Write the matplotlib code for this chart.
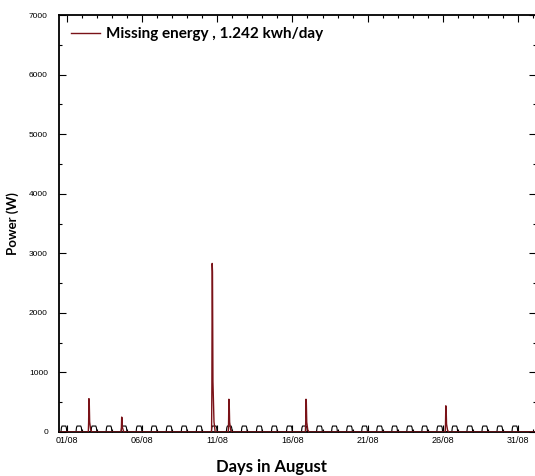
import matplotlib
matplotlib.use("Agg")
import numpy as np
import matplotlib.pyplot as plt
from matplotlib.ticker import MultipleLocator

# daily base load bumps (W), one per day in August
days = list(range(1, 32))
base_load = [100, 100, 100, 100, 100, 100, 100, 100, 100, 100,
             100, 100, 100, 100, 100, 100, 100, 100, 100, 100,
             100, 100, 100, 100, 100, 100, 100, 100, 100, 100, 100]

# missing energy spikes (day position, peak W)
spike_days = [2.46, 4.64, 10.66, 11.77, 16.90, 26.20]
spike_peaks = [560, 250, 2830, 550, 550, 440]

tick_days = [1, 6, 11, 16, 21, 26, 31]
tick_labels = ['01/08', '06/08', '11/08', '16/08', '21/08', '26/08', '31/08']

legend_label = 'Missing energy , 1.242 kwh/day'
red = '#7a1218'

# shapes of one bump / one spike (relative time, relative height)
bump_dt = [-0.40, -0.37, -0.33, -0.08, -0.04, -0.01]
bump_rel = [0, 0.7, 1, 1, 0.7, 0]
spike_dt = [-0.04, -0.02, 0.0, 0.02, 0.05, 0.12, 0.20]
spike_rel = [0, 0.28, 1, 0.95, 0.3, 0.06, 0]

bx, by = [0.4], [0]
for d, h in zip(days, base_load):
    bx += [d + t for t in bump_dt]
    by += [h * r for r in bump_rel]
bx.append(32.5)
by.append(0)

rx, ry = [0.4], [0]
for d, p in zip(spike_days, spike_peaks):
    rx += [d + t for t in spike_dt]
    ry += [p * r for r in spike_rel]
rx.append(32.5)
ry.append(0)

fig = plt.figure(figsize=(5.35, 4.76), dpi=100)
ax = fig.add_axes([59 / 535, 44 / 476, 477 / 535, 417 / 476])

ax.plot(bx, by, color='black', linewidth=0.8, zorder=2)
ax.plot(rx, ry, color=red, linewidth=1.0, zorder=3, label=legend_label)

ax.set_xlim(0.47, 32.2)
ax.set_ylim(0, 7000)

ax.set_xticks(tick_days)
ax.set_xticklabels(tick_labels, fontsize=6.5, family='Liberation Sans')
ax.xaxis.set_minor_locator(MultipleLocator(1))
ax.yaxis.set_major_locator(MultipleLocator(1000))
ax.yaxis.set_minor_locator(MultipleLocator(500))
for lab in ax.get_yticklabels():
    lab.set_fontsize(6)
    lab.set_family('Liberation Sans')

ax.tick_params(which='both', direction='in', top=True, right=True, width=0.8)
ax.tick_params(which='major', length=5, pad=3)
ax.tick_params(axis='y', which='major', pad=8)
ax.tick_params(which='minor', length=2.5)
for s in ax.spines.values():
    s.set_linewidth(1.3)

ax.set_xlabel('Days in August', fontsize=12, fontweight='bold', family='Lato')
ax.xaxis.set_label_coords((271 - 59) / 477, -0.065)
ax.set_ylabel('Power (W)', fontsize=9.5, fontweight='bold', family='Lato')
ax.yaxis.set_label_coords(-0.083, 0.5)

ax.legend(loc='upper left', frameon=False, handlelength=1.9, handletextpad=0.4,
          borderaxespad=0.4, prop={'family': 'Lato', 'weight': 'bold', 'size': 11})

fig.savefig('out.png', dpi=100)
